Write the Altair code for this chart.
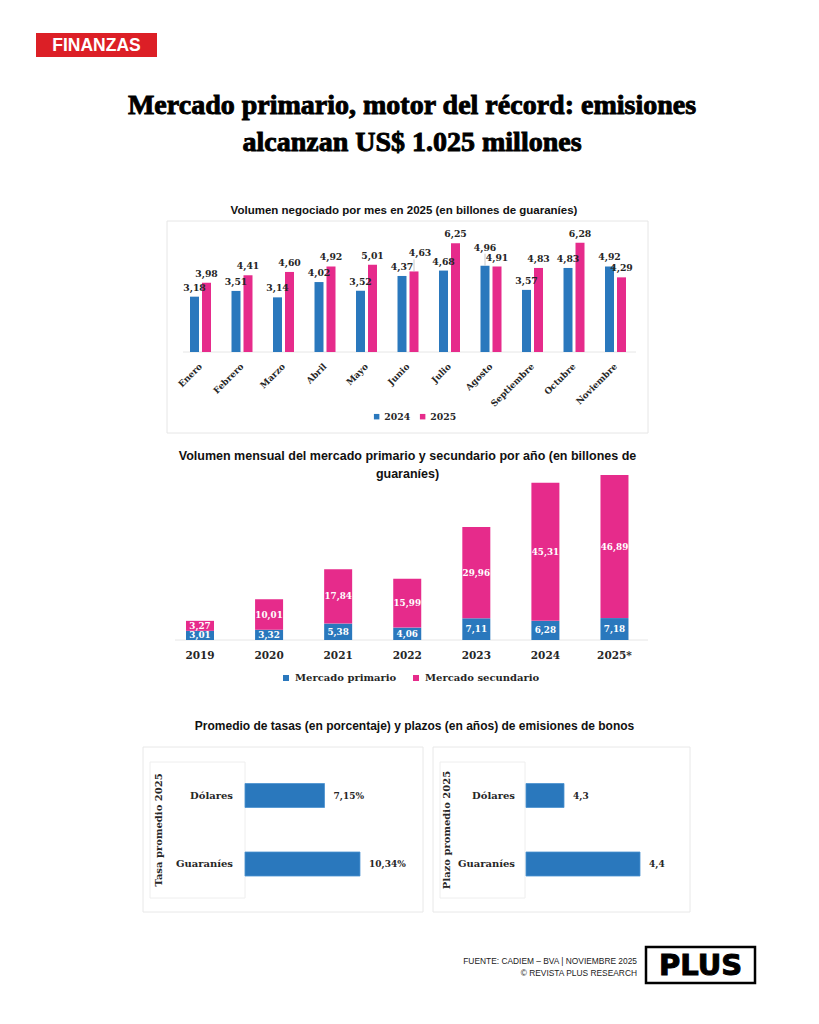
import altair as alt
import pandas as pd

# ---------------- data ----------------
seccion = "FINANZAS"
titular = ["Mercado primario, motor del récord: emisiones",
           "alcanzan US$ 1.025 millones"]

titulo_1 = "Volumen negociado por mes en 2025 (en billones de guaraníes)"
meses = ["Enero", "Febrero", "Marzo", "Abril", "Mayo", "Junio", "Julio",
         "Agosto", "Septiembre", "Octubre", "Noviembre"]
series_mes = ["2024", "2025"]
vol_2024 = [3.18, 3.51, 3.14, 4.02, 3.52, 4.37, 4.68, 4.96, 3.57, 4.83, 4.92]
vol_2025 = [3.98, 4.41, 4.60, 4.92, 5.01, 4.63, 6.25, 4.91, 4.83, 6.28, 4.29]

titulo_2 = ["Volumen mensual del mercado primario  y secundario por año (en billones de",
            "guaraníes)"]
anios = ["2019", "2020", "2021", "2022", "2023", "2024", "2025*"]
mercados = ["Mercado primario", "Mercado secundario"]
primario = [3.01, 3.32, 5.38, 4.06, 7.11, 6.28, 7.18]
secundario = [3.27, 10.01, 17.84, 15.99, 29.96, 45.31, 46.89]

titulo_3 = "Promedio de tasas (en porcentaje) y plazos (en años) de emisiones de bonos"
monedas = ["Dólares", "Guaraníes"]
tasa = [7.15, 10.34]
plazo = [4.3, 4.4]
eje_tasa = "Tasa promedio 2025"
eje_plazo = "Plazo promedio 2025"

fuente = ["FUENTE: CADIEM – BVA | NOVIEMBRE 2025", "© REVISTA PLUS RESEARCH"]
logo = "PLUS"

# ---------------- style ----------------
BLUE = "#2a78bd"
PINK = "#e62b8b"
RED = "#dc1f26"
INK = "#262626"
SANS = "Liberation Sans"
SERIF = "DejaVu Serif"
HEAD = "Liberation Serif"


def P(v):
    """page pixel -> chart pixel (8px body margin)"""
    return v - 8


ONE = pd.DataFrame({"_": [0]})


def txt(text, x, y, size, font=SANS, weight="bold", align="center",
        baseline="middle", color="#111111", angle=0, **kw):
    return alt.Chart(ONE).mark_text(
        text=text, font=font, fontSize=size, fontWeight=weight, align=align,
        baseline=baseline, color=color, angle=angle, **kw
    ).encode(x=alt.value(P(x)), y=alt.value(P(y)))


def box(x0, x1, y0, y1, stroke="#e3e3e3", width=1, fill=None):
    kw = dict(stroke=stroke, strokeWidth=width)
    if fill:
        kw["fill"] = fill
        kw["fillOpacity"] = 1
    else:
        kw["fillOpacity"] = 0
    return alt.Chart(ONE).mark_rect(**kw).encode(
        x=alt.value(P(x0)), x2=alt.value(P(x1)),
        y=alt.value(P(y0)), y2=alt.value(P(y1)))


# ---------------- header ----------------
header = alt.layer(
    box(36, 157, 33, 57, stroke=RED, width=0, fill=RED),
    txt(seccion, 96.5, 45.5, 17.5, color="white"),
    txt(titular, 412, 114, 28, font=HEAD, baseline="alphabetic",
        lineHeight=37, color="#000000", stroke="#000000", strokeWidth=0.9),
)

# ---------------- chart 1 ----------------
df1 = pd.DataFrame([
    {"mes": m, "i": i, "serie": s, "k": k, "v": v}
    for i, m in enumerate(meses)
    for k, (s, v) in enumerate(zip(series_mes, [vol_2024[i], vol_2025[i]]))
])
STEP1 = 41.5
PXU1 = 17.4
X1 = alt.Scale(domain=[0, 10], range=[P(200.5), P(200.5 + 10 * STEP1)],
               nice=False, zero=False)
Y1 = alt.Scale(domain=[0, 7], range=[P(352), P(352 - 7 * PXU1)],
               nice=False, zero=False)
off = 6 / STEP1
half = 4.5 / STEP1
base1 = alt.Chart(df1).transform_calculate(
    xc=f"datum.i + (datum.k == 0 ? -{off} : {off})"
).transform_calculate(
    xa=f"datum.xc - {half}", xb=f"datum.xc + {half}",
    lab="replace(format(datum.v, '.2f'), '.', ',')",
    top=f"datum.v + {12 / PXU1}"
)
leg1 = alt.Legend(title=None, orient="none", legendX=P(372), legendY=P(412),
                  direction="horizontal", symbolType="square", symbolSize=30,
                  labelFont=SERIF, labelFontWeight="bold", labelFontSize=9.3,
                  labelColor=INK, labelOffset=3, columnPadding=7, padding=0,
                  symbolStrokeWidth=0)
bars1 = base1.mark_bar().encode(
    x=alt.X("xa:Q", scale=X1, axis=None), x2="xb:Q",
    y=alt.Y("v:Q", scale=Y1, axis=None), y2=alt.datum(0),
    color=alt.Color("serie:N", scale=alt.Scale(domain=series_mes, range=[BLUE, PINK]),
                    legend=leg1))
label_style = dict(font=SERIF, fontWeight="bold", fontSize=9.3, color=INK,
                   baseline="alphabetic")
# data labels that the original lifts above their neighbours (mes, serie, dx, dy)
lifted = [("Junio", "2025", 6, -9), ("Agosto", "2024", 0, -9)]
lift_expr = " || ".join(f"(datum.mes == '{m}' && datum.serie == '{s}')"
                        for m, s, _, _ in lifted)
labels1 = base1.transform_filter(f"!({lift_expr})").mark_text(
    dy=-6, **label_style).encode(
    x=alt.X("xc:Q", scale=X1, axis=None),
    y=alt.Y("v:Q", scale=Y1, axis=None), text="lab:N")
lifted_layers = []
for m, s, dx, dy in lifted:
    sel = base1.transform_filter(f"datum.mes == '{m}' && datum.serie == '{s}'")
    lifted_layers.append(sel.mark_rule(color="#bdbdbd", strokeWidth=0.8).encode(
        x=alt.X("xc:Q", scale=X1, axis=None),
        y=alt.Y("v:Q", scale=Y1, axis=None), y2="top:Q"))
    lifted_layers.append(sel.mark_text(dx=dx, dy=-6 + dy, **label_style).encode(
        x=alt.X("xc:Q", scale=X1, axis=None),
        y=alt.Y("v:Q", scale=Y1, axis=None), text="lab:N"))
dfm = pd.DataFrame({"mes": meses, "i": list(range(len(meses)))})
months1 = alt.Chart(dfm).mark_text(font=SERIF, fontWeight="bold", fontSize=8.8,
                                   color=INK, angle=315, align="right",
                                   baseline="middle").encode(
    x=alt.X("i:Q", scale=X1, axis=None), y=alt.value(P(365)), text="mes:N")
rule1 = alt.Chart(ONE).mark_rule(color="#e6e6e6", strokeWidth=1).encode(
    y=alt.Y(datum=0, scale=Y1, axis=None), x=alt.value(P(183)), x2=alt.value(P(636)))
panel1 = alt.layer(
    box(167, 648, 221, 433, stroke="#e6e6e6"),
    rule1, bars1, labels1, *lifted_layers, months1,
    txt(titulo_1, 404, 210.5, 11.5),
)

# ---------------- chart 2 ----------------
df2 = pd.DataFrame([
    {"anio": a, "i": i, "mercado": mk, "k": k, "v": v}
    for i, a in enumerate(anios)
    for k, (mk, v) in enumerate(zip(mercados, [primario[i], secundario[i]]))
])
STEP2 = 69.08
X2 = alt.Scale(domain=[0, 6], range=[P(200), P(200 + 6 * STEP2)], nice=False, zero=False)
Y2 = alt.Scale(domain=[0, 60], range=[P(640), P(640 - 60 * 3.05)], nice=False, zero=False)
half2 = 14 / STEP2
base2 = alt.Chart(df2).transform_stack(
    stack="v", groupby=["anio"], as_=["lo", "hi"],
    sort=[alt.SortField("k", order="ascending")]
).transform_calculate(
    xa=f"datum.i - {half2}", xb=f"datum.i + {half2}",
    mid="(datum.lo + datum.hi) / 2",
    lab="replace(format(datum.v, '.2f'), '.', ',')"
)
leg2 = alt.Legend(title=None, orient="none", legendX=P(281), legendY=P(673),
                  direction="horizontal", symbolType="square", symbolSize=36,
                  labelFont=SERIF, labelFontWeight="bold", labelFontSize=10,
                  labelColor=INK, labelOffset=4, columnPadding=14, padding=0,
                  symbolStrokeWidth=0)
bars2 = base2.mark_bar().encode(
    x=alt.X("xa:Q", scale=X2, axis=None), x2="xb:Q",
    y=alt.Y("lo:Q", scale=Y2, axis=None), y2="hi:Q",
    color=alt.Color("mercado:N", scale=alt.Scale(domain=mercados, range=[BLUE, PINK]),
                    legend=leg2))
labels2 = base2.mark_text(font=SERIF, fontWeight="bold", fontSize=8.8, color="white",
                          baseline="middle").encode(
    x=alt.X("i:Q", scale=X2, axis=None),
    y=alt.Y("mid:Q", scale=Y2, axis=None), text="lab:N")
dfa = pd.DataFrame({"anio": anios, "i": list(range(len(anios)))})
years2 = alt.Chart(dfa).mark_text(font=SERIF, fontWeight="bold", fontSize=10.5,
                                  color=INK, baseline="middle").encode(
    x=alt.X("i:Q", scale=X2, axis=None), y=alt.value(P(656)), text="anio:N")
rule2 = alt.Chart(ONE).mark_rule(color="#e6e6e6", strokeWidth=1).encode(
    y=alt.Y(datum=0, scale=Y2, axis=None), x=alt.value(P(175)), x2=alt.value(P(648)))
panel2 = alt.layer(
    rule2, bars2, labels2, years2,
    txt(titulo_2, 407.5, 456, 12.5, lineHeight=18),
)

# ---------------- chart 3 ----------------
Y3 = alt.Scale(domain=[0, 1], range=[P(795.5), P(864)], nice=False, zero=False)
halfb = 12 / 68.5


def hbar_panel(values, fmt, suffix, x0, x1, slope, xmin, cat_right, axis_x, axis_title,
               frame, inner):
    d = pd.DataFrame({"moneda": monedas, "j": list(range(len(monedas))), "v": values})
    xs = alt.Scale(domain=[xmin, xmin + (x1 - x0) / slope], range=[P(x0), P(x1)],
                   nice=False, zero=False)
    b = alt.Chart(d).transform_calculate(
        ya=f"datum.j - {halfb}", yb=f"datum.j + {halfb}",
        lab=f"replace(format(datum.v, '{fmt}'), '.', ',') + '{suffix}'")
    bars = b.mark_bar(color=BLUE, stroke="#4a92d0", strokeWidth=0.8).encode(
        x=alt.X("v:Q", scale=xs, axis=None), x2=alt.datum(xmin),
        y=alt.Y("ya:Q", scale=Y3, axis=None), y2="yb:Q")
    labs = b.mark_text(font=SERIF, fontWeight="bold", fontSize=9, color=INK,
                       align="left", baseline="middle", dx=9).encode(
        x=alt.X("v:Q", scale=xs, axis=None),
        y=alt.Y("j:Q", scale=Y3, axis=None), text="lab:N")
    cats = b.mark_text(font=SERIF, fontWeight="bold", fontSize=10, color=INK,
                       align="right", baseline="middle").encode(
        x=alt.value(P(cat_right)),
        y=alt.Y("j:Q", scale=Y3, axis=None), text="moneda:N")
    return alt.layer(
        box(*frame, stroke="#e8e8e8"),
        box(*inner, stroke="#eeeeee"),
        bars, labs, cats,
        txt(axis_title, axis_x, 830, 10, font=SERIF, angle=270, color=INK),
    )


panel3a = hbar_panel(tasa, ".2f", "%", 245, 245 + 12 * 11.12, 11.12, 0, 233, 159,
                     eje_tasa, (143, 423, 747, 912), (150, 245, 762, 898))
panel3b = hbar_panel(plazo, ".1f", "", 526, 678, 760, 4.25, 515, 447,
                     eje_plazo, (433, 690, 747, 912), (440, 525, 762, 898))
title3 = txt(titulo_3, 414.5, 726, 12)

# ---------------- footer ----------------
footer = alt.layer(
    txt(fuente, 637, 961, 8.4, font=SANS, weight="normal", align="right",
        lineHeight=12, color="#222222"),
    box(646, 755, 947, 983, stroke="#000000", width=2.5),
    txt(logo, 700.5, 966, 29, font="DejaVu Sans", color="#000000",
        stroke="#000000", strokeWidth=1),
)

chart = alt.layer(
    header, panel1, panel2, title3, panel3a, panel3b, footer
).resolve_scale(
    x="independent", y="independent", color="independent"
).resolve_legend(
    color="independent"
).properties(
    width=803, height=1008, padding=0, autosize="none", background="white"
).configure_view(stroke=None)

chart.save("out.html", embed_options={"renderer": "svg", "actions": False})
